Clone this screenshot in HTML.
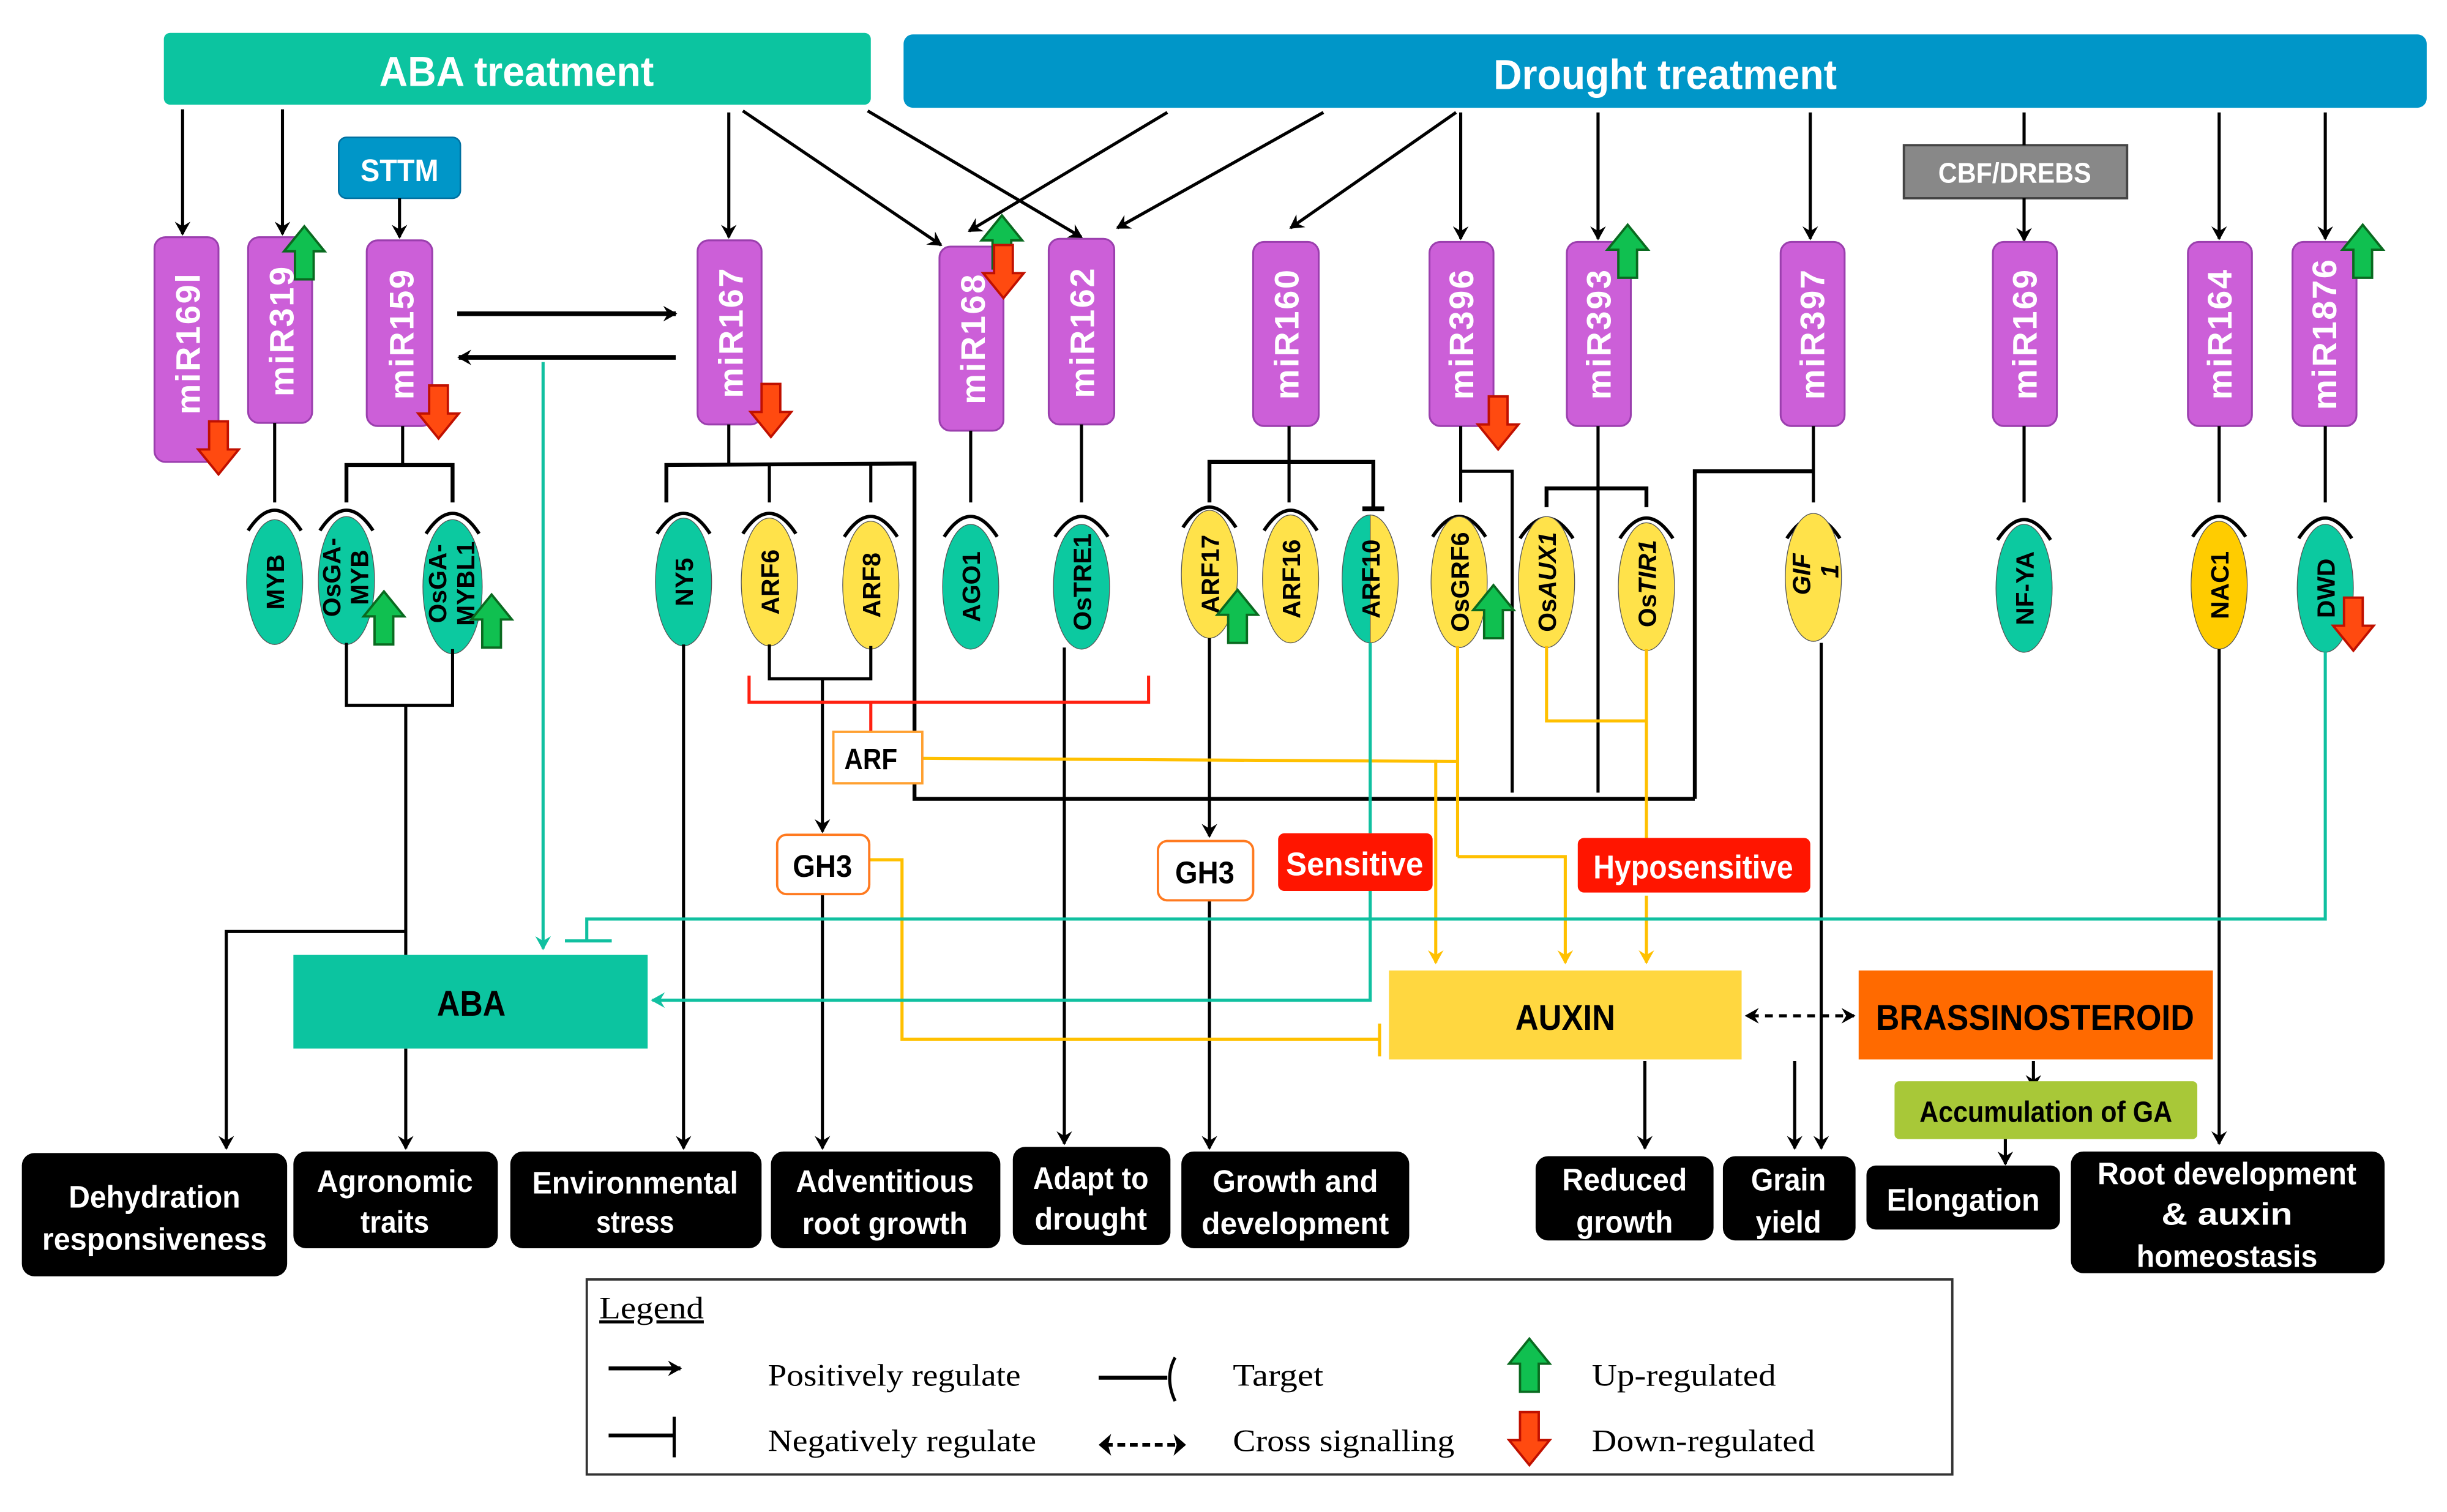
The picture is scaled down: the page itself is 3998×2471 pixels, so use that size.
<!DOCTYPE html>
<html><head><meta charset="utf-8"><style>
html,body{margin:0;padding:0;background:#fff}
svg{display:block}
text{font-family:"Liberation Sans",sans-serif}
.n{font-family:"Liberation Sans Narrow","Liberation Sans",sans-serif;font-weight:bold}
.mir{fill:#cc5fd8;stroke:#9b3fae;stroke-width:1.2}
.mt{fill:#fff;font-weight:bold;font-size:22px;letter-spacing:1px}
.gt{fill:#000;font-weight:bold;font-size:16px}
.k{stroke:#000;stroke-width:2;fill:none}
.kb{stroke:#000;stroke-width:3;fill:none}
.y{stroke:#ffc000;stroke-width:2;fill:none}
.t{stroke:#10c0a0;stroke-width:2;fill:none}
.ob{fill:#000}
.ot{fill:#fff;font-size:20px}
.lg{font-family:"Liberation Serif",serif;font-size:20px;fill:#000}
</style></head><body>
<svg width="3998" height="2471" viewBox="0 0 1568 969" xmlns="http://www.w3.org/2000/svg">
<defs>
<marker id="a" markerWidth="10" markerHeight="10" refX="8" refY="5" orient="auto" markerUnits="userSpaceOnUse"><path d="M0,0 L9,5 L0,10 L3,5 z" fill="#000"/></marker>
<marker id="ay" markerWidth="10" markerHeight="12" refX="8" refY="5" orient="auto" markerUnits="userSpaceOnUse"><path d="M0,0 L9,5 L0,10 L3,5 z" fill="#ffc000"/></marker>
<marker id="at" markerWidth="10" markerHeight="12" refX="8" refY="5" orient="auto" markerUnits="userSpaceOnUse"><path d="M0,0 L9,5 L0,10 L3,5 z" fill="#10c0a0"/></marker>
<g id="up"><path d="M0,-17 L13,-1 L6,-1 L6,17 L-6,17 L-6,-1 L-13,-1 z" fill="#10c050" stroke="#0a6a20" stroke-width="1.5"/></g>
<g id="dn"><path d="M0,17 L13,1 L6,1 L6,-17 L-6,-17 L-6,1 L-13,1 z" fill="#ff4a10" stroke="#c01000" stroke-width="1.5"/></g>
<path id="arc" d="M-17,12 Q0,-14 17,12" fill="none" stroke="#000" stroke-width="2.2"/>
</defs>

<rect x="105" y="21" width="453" height="46" rx="4" fill="#0cc4a0"/>
<text x="331" y="55" text-anchor="middle" class="n" font-size="27" fill="#fff" textLength="176" lengthAdjust="spacingAndGlyphs">ABA treatment</text>
<rect x="579" y="22" width="976" height="47" rx="6" fill="#0096c8"/>
<text x="1067" y="57" text-anchor="middle" class="n" font-size="27" fill="#fff" textLength="220" lengthAdjust="spacingAndGlyphs">Drought treatment</text>
<rect x="217" y="88" width="78" height="39" rx="5" fill="#0096c8" stroke="#0070a0"/>
<text x="256" y="116" text-anchor="middle" class="n" font-size="20" fill="#fff" textLength="50" lengthAdjust="spacingAndGlyphs">STTM</text>
<rect x="1220" y="93" width="143" height="34" fill="#888" stroke="#444" stroke-width="1.5"/>
<text x="1291" y="117" text-anchor="middle" class="n" font-size="18" fill="#fff" textLength="98" lengthAdjust="spacingAndGlyphs">CBF/DREBS</text>

<g class="k" marker-end="url(#a)">
<line x1="117" y1="70" x2="117" y2="150"/>
<line x1="181" y1="70" x2="181" y2="150"/>
<line x1="256" y1="127" x2="256" y2="152"/>
<line x1="467" y1="72" x2="467" y2="152"/>
<line x1="476" y1="71" x2="603" y2="157"/>
<line x1="556" y1="71" x2="693" y2="152"/>
<line x1="748" y1="72" x2="621" y2="148"/>
<line x1="848" y1="72" x2="716" y2="146"/>
<line x1="933" y1="72" x2="827" y2="146"/>
<line x1="936" y1="72" x2="936" y2="153"/>
<line x1="1024" y1="72" x2="1024" y2="153"/>
<line x1="1160" y1="72" x2="1160" y2="153"/>
<line x1="1297" y1="127" x2="1297" y2="154"/>
<line x1="1422" y1="72" x2="1422" y2="153"/>
<line x1="1490" y1="72" x2="1490" y2="153"/>
</g>
<line x1="1297" y1="72" x2="1297" y2="93" class="k"/>
<line x1="293" y1="201" x2="433" y2="201" class="kb" marker-end="url(#a)"/>
<line x1="433" y1="229" x2="294" y2="229" class="kb" marker-end="url(#a)"/>
<line x1="348" y1="232" x2="348" y2="608" class="t" marker-end="url(#at)"/>

<g>
<rect class="mir" x="99" y="152" width="41" height="144" rx="7"/>
<rect class="mir" x="159" y="152" width="41" height="119" rx="7"/>
<rect class="mir" x="235" y="154" width="42" height="119" rx="7"/>
<rect class="mir" x="447" y="154" width="41" height="118" rx="7"/>
<rect class="mir" x="602" y="158" width="41" height="118" rx="7"/>
<rect class="mir" x="672" y="153" width="42" height="119" rx="7"/>
<rect class="mir" x="803" y="155" width="42" height="118" rx="7"/>
<rect class="mir" x="916" y="155" width="41" height="118" rx="7"/>
<rect class="mir" x="1004" y="155" width="41" height="118" rx="7"/>
<rect class="mir" x="1141" y="155" width="41" height="118" rx="7"/>
<rect class="mir" x="1277" y="155" width="41" height="118" rx="7"/>
<rect class="mir" x="1402" y="155" width="41" height="118" rx="7"/>
<rect class="mir" x="1469" y="155" width="41" height="118" rx="7"/>
</g>
<g class="mt">
<text transform="translate(128,220) rotate(-90)" text-anchor="middle">miR169l</text>
<text transform="translate(188,212) rotate(-90)" text-anchor="middle">miR319</text>
<text transform="translate(265,214) rotate(-90)" text-anchor="middle">miR159</text>
<text transform="translate(476,213) rotate(-90)" text-anchor="middle">miR167</text>
<text transform="translate(631,217) rotate(-90)" text-anchor="middle">miR168</text>
<text transform="translate(701,213) rotate(-90)" text-anchor="middle">miR162</text>
<text transform="translate(832,214) rotate(-90)" text-anchor="middle">miR160</text>
<text transform="translate(944,214) rotate(-90)" text-anchor="middle">miR396</text>
<text transform="translate(1032,214) rotate(-90)" text-anchor="middle">miR393</text>
<text transform="translate(1169,214) rotate(-90)" text-anchor="middle">miR397</text>
<text transform="translate(1305,214) rotate(-90)" text-anchor="middle">miR169</text>
<text transform="translate(1430,214) rotate(-90)" text-anchor="middle">miR164</text>
<text transform="translate(1497,214) rotate(-90)" text-anchor="middle">miR1876</text>
</g>

<g class="k">
<line x1="176" y1="271" x2="176" y2="322"/>
<line x1="258" y1="273" x2="258" y2="298"/>
<polyline points="222,322 222,298 290,298 290,322" stroke-width="2.5"/>
<line x1="467" y1="272" x2="467" y2="297"/>
<polyline points="427,322 427,298 586,297 586,512 1086,512" stroke-width="2.5"/>
<line x1="493" y1="298" x2="493" y2="322"/>
<line x1="558" y1="298" x2="558" y2="322"/>
<line x1="622" y1="276" x2="622" y2="322"/>
<line x1="693" y1="272" x2="693" y2="322"/>
<line x1="826" y1="273" x2="826" y2="322"/>
<polyline points="775,322 775,296 880,296 880,326" stroke-width="2.5"/>
<line x1="873" y1="326" x2="887" y2="326" stroke-width="3"/>
<line x1="936" y1="273" x2="936" y2="322"/>
<polyline points="936,302 969,302 969,508"/>
<line x1="1024" y1="273" x2="1024" y2="508"/>
<polyline points="991,325 991,313 1055,313 1055,325" stroke-width="2.5"/>
<line x1="1162" y1="273" x2="1162" y2="322"/>
<polyline points="1162,302 1086,302 1086,512" stroke-width="2.5"/>
<line x1="1297" y1="273" x2="1297" y2="322"/>
<line x1="1422" y1="273" x2="1422" y2="322"/>
<line x1="1490" y1="273" x2="1490" y2="322"/>
</g>

<g>
<use href="#arc" x="176" y="328"/><use href="#arc" x="222" y="328"/><use href="#arc" x="290" y="330"/>
<use href="#arc" x="438" y="330"/><use href="#arc" x="493" y="330"/><use href="#arc" x="558" y="332"/>
<use href="#arc" x="622" y="332"/><use href="#arc" x="693" y="332"/><use href="#arc" x="775" y="326"/>
<use href="#arc" x="827" y="328"/><use href="#arc" x="935" y="332"/><use href="#arc" x="991" y="333"/>
<use href="#arc" x="1055" y="333"/><use href="#arc" x="1162" y="333"/><use href="#arc" x="1297" y="334"/>
<use href="#arc" x="1422" y="332"/><use href="#arc" x="1490" y="333"/>
</g>

<g stroke="#555" stroke-width="0.5">
<ellipse cx="176" cy="373" rx="18" ry="40" fill="#0cc9a0"/>
<ellipse cx="222" cy="372" rx="18" ry="41" fill="#0cc9a0"/>
<ellipse cx="290" cy="376" rx="19" ry="43" fill="#0cc9a0"/>
<ellipse cx="438" cy="373" rx="18" ry="41" fill="#0cc9a0"/>
<ellipse cx="493" cy="373" rx="18" ry="41" fill="#ffe24a"/>
<ellipse cx="558" cy="375" rx="18" ry="41" fill="#ffe24a"/>
<ellipse cx="622" cy="376" rx="18" ry="40" fill="#0cc9a0"/>
<ellipse cx="693" cy="376" rx="18" ry="40" fill="#0cc9a0"/>
<ellipse cx="775" cy="368" rx="18" ry="41" fill="#ffe24a"/>
<ellipse cx="827" cy="371" rx="18" ry="41" fill="#ffe24a"/>
<path d="M878,330 A18,41 0 0 0 878,412 Z" fill="#0cc9a0"/>
<path d="M878,330 A18,41 0 0 1 878,412 Z" fill="#ffe24a"/>
<ellipse cx="935" cy="373" rx="18" ry="42" fill="#ffe24a"/>
<ellipse cx="991" cy="373" rx="18" ry="42" fill="#ffe24a"/>
<ellipse cx="1055" cy="376" rx="18" ry="41" fill="#ffe24a"/>
<ellipse cx="1162" cy="370" rx="18" ry="41" fill="#ffe24a"/>
<ellipse cx="1297" cy="377" rx="18" ry="41" fill="#0cc9a0"/>
<ellipse cx="1422" cy="375" rx="18" ry="41" fill="#ffcc00"/>
<ellipse cx="1490" cy="377" rx="18" ry="41" fill="#0cc9a0"/>
</g>
<g class="gt">
<text transform="translate(182,373) rotate(-90)" text-anchor="middle">MYB</text>
<text transform="translate(218,370) rotate(-90)" text-anchor="middle">OsGA-</text>
<text transform="translate(236,370) rotate(-90)" text-anchor="middle">MYB</text>
<text transform="translate(286,374) rotate(-90)" text-anchor="middle">OsGA-</text>
<text transform="translate(304,374) rotate(-90)" text-anchor="middle">MYBL1</text>
<text transform="translate(444,373) rotate(-90)" text-anchor="middle">NY5</text>
<text transform="translate(499,373) rotate(-90)" text-anchor="middle">ARF6</text>
<text transform="translate(564,375) rotate(-90)" text-anchor="middle">ARF8</text>
<text transform="translate(628,376) rotate(-90)" text-anchor="middle">AGO1</text>
<text transform="translate(699,373) rotate(-90)" text-anchor="middle">OsTRE1</text>
<text transform="translate(781,368) rotate(-90)" text-anchor="middle">ARF17</text>
<text transform="translate(833,371) rotate(-90)" text-anchor="middle">ARF16</text>
<text transform="translate(884,371) rotate(-90)" text-anchor="middle">ARF10</text>
<text transform="translate(941,373) rotate(-90)" text-anchor="middle">OsGRF6</text>
<text transform="translate(997,373) rotate(-90)" text-anchor="middle">Os<tspan font-style="italic">AUX1</tspan></text>
<text transform="translate(1061,374) rotate(-90)" text-anchor="middle">Os<tspan font-style="italic">TIR1</tspan></text>
<text transform="translate(1160,368) rotate(-90)" text-anchor="middle" font-style="italic">GIF</text>
<text transform="translate(1178,366) rotate(-90)" text-anchor="middle" font-style="italic">1</text>
<text transform="translate(1303,377) rotate(-90)" text-anchor="middle">NF-YA</text>
<text transform="translate(1428,375) rotate(-90)" text-anchor="middle">NAC1</text>
<text transform="translate(1496,377) rotate(-90)" text-anchor="middle">DWD</text>
</g>

<use href="#up" x="195" y="162"/><use href="#up" x="246" y="396"/><use href="#up" x="315" y="398"/>
<use href="#up" x="642" y="155"/><use href="#up" x="793" y="395"/><use href="#up" x="957" y="392"/>
<use href="#up" x="1043" y="161"/><use href="#up" x="1514" y="161"/>
<use href="#dn" x="140" y="287"/><use href="#dn" x="281" y="264"/><use href="#dn" x="494" y="263"/>
<use href="#dn" x="643" y="174"/><use href="#dn" x="960" y="271"/><use href="#dn" x="1508" y="400"/>

<g class="k">
<polyline points="222,412 222,452 290,452 290,416"/>
<line x1="260" y1="452" x2="260" y2="612"/>
<polyline points="260,597 145,597 145,736" marker-end="url(#a)"/>
<line x1="260" y1="672" x2="260" y2="736" marker-end="url(#a)"/>
<line x1="438" y1="413" x2="438" y2="736" marker-end="url(#a)"/>
<polyline points="493,413 493,435 558,435 558,414"/>
<line x1="527" y1="435" x2="527" y2="533" marker-end="url(#a)"/>
<line x1="527" y1="573" x2="527" y2="736" marker-end="url(#a)"/>
<line x1="682" y1="415" x2="682" y2="733" marker-end="url(#a)"/>
<line x1="775" y1="409" x2="775" y2="536" marker-end="url(#a)"/>
<line x1="775" y1="577" x2="775" y2="736" marker-end="url(#a)"/>
<line x1="1167" y1="412" x2="1167" y2="736" marker-end="url(#a)"/>
<line x1="1150" y1="680" x2="1150" y2="736" marker-end="url(#a)"/>
<line x1="1054" y1="680" x2="1054" y2="736" marker-end="url(#a)"/>
<line x1="1422" y1="416" x2="1422" y2="733" marker-end="url(#a)"/>
<line x1="1303" y1="680" x2="1303" y2="697" marker-end="url(#a)"/>
<line x1="1285" y1="730" x2="1285" y2="746" marker-end="url(#a)"/>
<line x1="1122" y1="651" x2="1188" y2="651" stroke-dasharray="5,4" marker-end="url(#a)"/>
</g>
<path d="M1118,651 L1127,646 L1124,651 L1127,656 z" fill="#000"/>
<polyline points="480,433 480,450 736,450 736,433" fill="none" stroke="#ff2010" stroke-width="2"/>
<line x1="558" y1="450" x2="558" y2="469" stroke="#ff2010" stroke-width="2"/>

<g class="y">
<polyline points="591,486 934,488"/>
<line x1="934" y1="414" x2="934" y2="549"/>
<polyline points="934,549 1003,549 1003,617" marker-end="url(#ay)"/>
<line x1="920" y1="487" x2="920" y2="617" marker-end="url(#ay)"/>
<polyline points="991,414 991,462 1055,462"/>
<line x1="1055" y1="416" x2="1055" y2="537"/>
<line x1="1055" y1="574" x2="1055" y2="617" marker-end="url(#ay)"/>
<polyline points="557,551 578,551 578,666 884,666"/>
<line x1="884" y1="656" x2="884" y2="677"/>
</g>

<g class="t">
<line x1="878" y1="412" x2="878" y2="534"/>
<polyline points="878,571 878,641 418,641" marker-end="url(#at)"/>
<polyline points="1490,418 1490,589 376,589 376,603"/>
<line x1="362" y1="603" x2="392" y2="603"/>
</g>

<rect x="534" y="469" width="57" height="33" fill="#fff" stroke="#ffa030" stroke-width="1.5"/>
<text x="558" y="493" text-anchor="middle" class="n" font-size="19" font-weight="normal" textLength="34" lengthAdjust="spacingAndGlyphs">ARF</text>
<rect x="498" y="535" width="59" height="38" rx="6" fill="#fff" stroke="#ff7a20" stroke-width="1.5"/>
<text x="527" y="562" text-anchor="middle" class="n" font-size="20" font-weight="normal" textLength="38" lengthAdjust="spacingAndGlyphs">GH3</text>
<rect x="742" y="539" width="61" height="38" rx="6" fill="#fff" stroke="#ff7a20" stroke-width="1.5"/>
<text x="772" y="566" text-anchor="middle" class="n" font-size="20" font-weight="normal" textLength="38" lengthAdjust="spacingAndGlyphs">GH3</text>
<rect x="819" y="534" width="99" height="37" rx="4" fill="#ff1500"/>
<text x="868" y="561" text-anchor="middle" class="n" font-size="21" fill="#fff" textLength="88" lengthAdjust="spacingAndGlyphs">Sensitive</text>
<rect x="1011" y="537" width="149" height="35" rx="4" fill="#ff1500"/>
<text x="1085" y="563" text-anchor="middle" class="n" font-size="21" fill="#fff" textLength="128" lengthAdjust="spacingAndGlyphs">Hyposensitive</text>

<rect x="188" y="612" width="227" height="60" fill="#0cc4a0"/>
<text x="302" y="651" text-anchor="middle" class="n" font-size="23" textLength="44" lengthAdjust="spacingAndGlyphs">ABA</text>
<rect x="890" y="622" width="226" height="57" fill="#ffd740"/>
<text x="1003" y="660" text-anchor="middle" class="n" font-size="23" textLength="64" lengthAdjust="spacingAndGlyphs">AUXIN</text>
<rect x="1191" y="622" width="227" height="57" fill="#ff6a00"/>
<text x="1304" y="660" text-anchor="middle" class="n" font-size="23" textLength="204" lengthAdjust="spacingAndGlyphs">BRASSINOSTEROID</text>
<rect x="1214" y="693" width="194" height="37" rx="3" fill="#a8c838"/>
<text x="1311" y="719" text-anchor="middle" class="n" font-size="19" font-weight="normal" textLength="162" lengthAdjust="spacingAndGlyphs">Accumulation of GA</text>

<g class="ob">
<rect x="14" y="739" width="170" height="79" rx="8"/>
<rect x="188" y="738" width="131" height="62" rx="8"/>
<rect x="327" y="738" width="161" height="62" rx="8"/>
<rect x="494" y="738" width="147" height="62" rx="8"/>
<rect x="649" y="735" width="101" height="63" rx="8"/>
<rect x="757" y="738" width="146" height="62" rx="8"/>
<rect x="984" y="741" width="114" height="54" rx="8"/>
<rect x="1104" y="741" width="85" height="54" rx="8"/>
<rect x="1196" y="747" width="124" height="41" rx="6"/>
<rect x="1327" y="738" width="201" height="78" rx="8"/>
</g>
<g class="n ot" text-anchor="middle" font-weight="normal" lengthAdjust="spacingAndGlyphs">
<text x="99" y="774" textLength="110" lengthAdjust="spacingAndGlyphs">Dehydration</text><text x="99" y="801" textLength="144" lengthAdjust="spacingAndGlyphs">responsiveness</text>
<text x="253" y="764" textLength="100" lengthAdjust="spacingAndGlyphs">Agronomic</text><text x="253" y="790" textLength="44" lengthAdjust="spacingAndGlyphs">traits</text>
<text x="407" y="765" textLength="132" lengthAdjust="spacingAndGlyphs">Environmental</text><text x="407" y="790" textLength="50" lengthAdjust="spacingAndGlyphs">stress</text>
<text x="567" y="764" textLength="114" lengthAdjust="spacingAndGlyphs">Adventitious</text><text x="567" y="791" textLength="106" lengthAdjust="spacingAndGlyphs">root growth</text>
<text x="699" y="762" textLength="74" lengthAdjust="spacingAndGlyphs">Adapt to</text><text x="699" y="788" textLength="72" lengthAdjust="spacingAndGlyphs">drought</text>
<text x="830" y="764" textLength="106" lengthAdjust="spacingAndGlyphs">Growth and</text><text x="830" y="791" textLength="120" lengthAdjust="spacingAndGlyphs">development</text>
<text x="1041" y="763" textLength="80" lengthAdjust="spacingAndGlyphs">Reduced</text><text x="1041" y="790" textLength="62" lengthAdjust="spacingAndGlyphs">growth</text>
<text x="1146" y="763" textLength="48" lengthAdjust="spacingAndGlyphs">Grain</text><text x="1146" y="790" textLength="42" lengthAdjust="spacingAndGlyphs">yield</text>
<text x="1258" y="776" textLength="98" lengthAdjust="spacingAndGlyphs">Elongation</text>
<text x="1427" y="759" textLength="166" lengthAdjust="spacingAndGlyphs">Root development</text><text x="1427" y="785" textLength="84" lengthAdjust="spacingAndGlyphs">&amp; auxin</text><text x="1427" y="812" textLength="116" lengthAdjust="spacingAndGlyphs">homeostasis</text>
</g>

<rect x="376" y="820" width="875" height="125" fill="#fff" stroke="#333" stroke-width="1.5"/>
<text x="384" y="845" class="lg" text-decoration="underline" textLength="67" lengthAdjust="spacingAndGlyphs">Legend</text>
<line x1="390" y1="877" x2="436" y2="877" stroke="#000" stroke-width="2.5" marker-end="url(#a)"/>
<text x="492" y="888" class="lg" textLength="162" lengthAdjust="spacingAndGlyphs">Positively regulate</text>
<line x1="390" y1="920" x2="432" y2="920" stroke="#000" stroke-width="2.5"/>
<line x1="432" y1="908" x2="432" y2="934" stroke="#000" stroke-width="2"/>
<text x="492" y="930" class="lg" textLength="172" lengthAdjust="spacingAndGlyphs">Negatively regulate</text>
<line x1="704" y1="883" x2="748" y2="883" stroke="#000" stroke-width="2.5"/>
<path d="M753,870 Q746,883 753,898" fill="none" stroke="#000" stroke-width="2"/>
<text x="790" y="888" class="lg" textLength="58" lengthAdjust="spacingAndGlyphs">Target</text>
<line x1="708" y1="926" x2="756" y2="926" stroke="#000" stroke-width="2.5" stroke-dasharray="5,3"/>
<path d="M704,926 L712,919 L710,926 L712,933 z" fill="#000"/>
<path d="M760,926 L752,919 L754,926 L752,933 z" fill="#000"/>
<text x="790" y="930" class="lg" textLength="142" lengthAdjust="spacingAndGlyphs">Cross signalling</text>
<use href="#up" x="980" y="875"/>
<use href="#dn" x="980" y="922"/>
<text x="1020" y="888" class="lg" textLength="118" lengthAdjust="spacingAndGlyphs">Up-regulated</text>
<text x="1020" y="930" class="lg" textLength="143" lengthAdjust="spacingAndGlyphs">Down-regulated</text>
</svg>
</body></html>
